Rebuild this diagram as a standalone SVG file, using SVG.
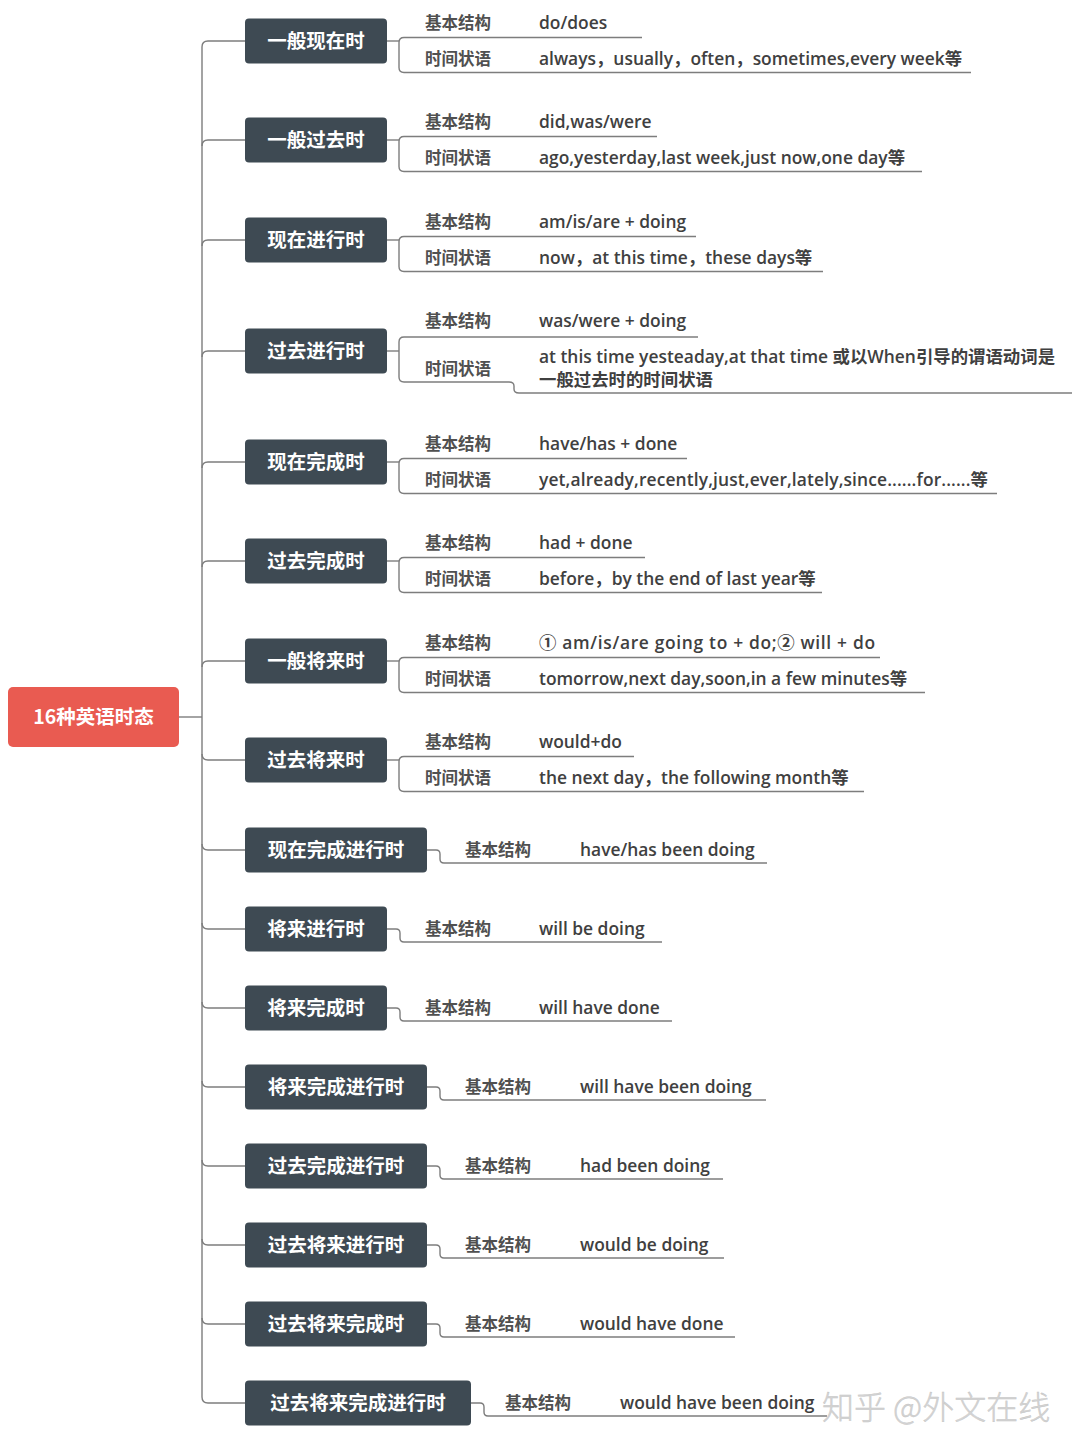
<svg xmlns="http://www.w3.org/2000/svg" width="1080" height="1452" viewBox="0 0 1080 1452">
<style>
.bg{fill:#ffffff}
.node rect{fill:#3e4a53}
.node text{fill:#ffffff;font-family:"Noto Sans CJK SC","Noto Sans",sans-serif;font-weight:bold;font-size:19.5px;text-anchor:middle}
.root rect{fill:#e95b51}
.lbl{fill:#505050;font-family:"Noto Sans CJK SC",sans-serif;font-weight:bold;font-size:16.5px}
.val{fill:#404040;font-family:"Open Sans","Noto Sans CJK SC",sans-serif;font-weight:600;font-size:17.4px}
.conn path{fill:none;stroke:#7d7d7d;stroke-width:1.4}
.wm{fill:#d4d4d4;stroke:#c4c4c4;stroke-width:0.4;font-family:"Noto Sans CJK SC",sans-serif;font-weight:300;font-size:32px}
</style>
<rect class="bg" x="0" y="0" width="1080" height="1452"/>
<g id="connectors" class="conn">
<path d="M179 717 H202"/>
<path d="M245 41 H208 Q202 41 202 47 V1397 Q202 1403 208 1403 H245"/>
<path d="M245 140 H208 Q202 140 202 146"/>
<path d="M245 240 H208 Q202 240 202 246"/>
<path d="M245 351 H208 Q202 351 202 357"/>
<path d="M245 462 H208 Q202 462 202 468"/>
<path d="M245 561 H208 Q202 561 202 567"/>
<path d="M245 661 H208 Q202 661 202 667"/>
<path d="M245 760 H208 Q202 760 202 754"/>
<path d="M245 850 H208 Q202 850 202 844"/>
<path d="M245 929 H208 Q202 929 202 923"/>
<path d="M245 1008 H208 Q202 1008 202 1002"/>
<path d="M245 1087 H208 Q202 1087 202 1081"/>
<path d="M245 1166 H208 Q202 1166 202 1160"/>
<path d="M245 1245 H208 Q202 1245 202 1239"/>
<path d="M245 1324 H208 Q202 1324 202 1318"/>
<!-- two-row subbranches -->
<path d="M387 41 H399"/>
<path d="M642 37.5 H404 Q399 37.5 399 42.5 V67.5 Q399 72.5 404 72.5 H971"/>
<path d="M387 140 H399"/>
<path d="M657 136.5 H404 Q399 136.5 399 141.5 V166.5 Q399 171.5 404 171.5 H922"/>
<path d="M387 240 H399"/>
<path d="M696 236.5 H404 Q399 236.5 399 241.5 V266.5 Q399 271.5 404 271.5 H823"/>
<path d="M387 351 H399"/>
<path d="M698 337 H404 Q399 337 399 342 V377 Q399 382 404 382 H509 Q514 382 514 386 V389 Q514 393 519 393 H1072"/>
<path d="M387 462 H399"/>
<path d="M687 458.5 H404 Q399 458.5 399 463.5 V488.5 Q399 493.5 404 493.5 H997"/>
<path d="M387 561 H399"/>
<path d="M645 557.5 H404 Q399 557.5 399 562.5 V587.5 Q399 592.5 404 592.5 H822"/>
<path d="M387 661 H399"/>
<path d="M880 657.5 H404 Q399 657.5 399 662.5 V687.5 Q399 692.5 404 692.5 H925"/>
<path d="M387 760 H399"/>
<path d="M634 756.5 H404 Q399 756.5 399 761.5 V786.5 Q399 791.5 404 791.5 H864"/>
<!-- single-row subbranches -->
<path d="M427 850 H436 Q440 850 440 854 V859 Q440 863 444 863 H767"/>
<path d="M387 929 H396 Q400 929 400 933 V938 Q400 942 404 942 H662"/>
<path d="M387 1008 H396 Q400 1008 400 1012 V1017 Q400 1021 404 1021 H672"/>
<path d="M427 1087 H436 Q440 1087 440 1091 V1096 Q440 1100 444 1100 H766"/>
<path d="M427 1166 H436 Q440 1166 440 1170 V1175 Q440 1179 444 1179 H723"/>
<path d="M427 1245 H436 Q440 1245 440 1249 V1254 Q440 1258 444 1258 H724"/>
<path d="M427 1324 H436 Q440 1324 440 1328 V1333 Q440 1337 444 1337 H735"/>
<path d="M471 1403 H480 Q484 1403 484 1407 V1412 Q484 1416 488 1416 H827"/>
</g>
<g id="root" class="root node">
<rect x="8" y="687" width="171" height="60" rx="5"/>
<text x="93.5" y="724">16种英语时态</text>
</g>
<g id="n1" class="node"><rect x="245" y="18.5" width="142" height="45" rx="4"/><text x="316" y="48">一般现在时</text></g>
<g id="n2" class="node"><rect x="245" y="117.5" width="142" height="45" rx="4"/><text x="316" y="147">一般过去时</text></g>
<g id="n3" class="node"><rect x="245" y="217.5" width="142" height="45" rx="4"/><text x="316" y="247">现在进行时</text></g>
<g id="n4" class="node"><rect x="245" y="328.5" width="142" height="45" rx="4"/><text x="316" y="358">过去进行时</text></g>
<g id="n5" class="node"><rect x="245" y="439.5" width="142" height="45" rx="4"/><text x="316" y="469">现在完成时</text></g>
<g id="n6" class="node"><rect x="245" y="538.5" width="142" height="45" rx="4"/><text x="316" y="568">过去完成时</text></g>
<g id="n7" class="node"><rect x="245" y="638.5" width="142" height="45" rx="4"/><text x="316" y="668">一般将来时</text></g>
<g id="n8" class="node"><rect x="245" y="737.5" width="142" height="45" rx="4"/><text x="316" y="767">过去将来时</text></g>
<g id="n9" class="node"><rect x="245" y="827.5" width="182" height="45" rx="4"/><text x="336" y="857">现在完成进行时</text></g>
<g id="n10" class="node"><rect x="245" y="906.5" width="142" height="45" rx="4"/><text x="316" y="936">将来进行时</text></g>
<g id="n11" class="node"><rect x="245" y="985.5" width="142" height="45" rx="4"/><text x="316" y="1015">将来完成时</text></g>
<g id="n12" class="node"><rect x="245" y="1064.5" width="182" height="45" rx="4"/><text x="336" y="1094">将来完成进行时</text></g>
<g id="n13" class="node"><rect x="245" y="1143.5" width="182" height="45" rx="4"/><text x="336" y="1173">过去完成进行时</text></g>
<g id="n14" class="node"><rect x="245" y="1222.5" width="182" height="45" rx="4"/><text x="336" y="1252">过去将来进行时</text></g>
<g id="n15" class="node"><rect x="245" y="1301.5" width="182" height="45" rx="4"/><text x="336" y="1331">过去将来完成时</text></g>
<g id="n16" class="node"><rect x="245" y="1380.5" width="226" height="45" rx="4"/><text x="358" y="1410">过去将来完成进行时</text></g>
<g id="sub1">
<text class="lbl" x="425" y="29">基本结构</text><text class="val" x="539" y="29">do/does</text>
<text class="lbl" x="425" y="65">时间状语</text><text class="val" x="539" y="65">always，usually，often，sometimes,every week等</text>
</g>
<g id="sub2">
<text class="lbl" x="425" y="128">基本结构</text><text class="val" x="539" y="128">did,was/were</text>
<text class="lbl" x="425" y="164">时间状语</text><text class="val" x="539" y="164">ago,yesterday,last week,just now,one day等</text>
</g>
<g id="sub3">
<text class="lbl" x="425" y="228">基本结构</text><text class="val" x="539" y="228">am/is/are + doing</text>
<text class="lbl" x="425" y="264">时间状语</text><text class="val" x="539" y="264">now，at this time，these days等</text>
</g>
<g id="sub4">
<text class="lbl" x="425" y="327">基本结构</text><text class="val" x="539" y="327">was/were + doing</text>
<text class="lbl" x="425" y="375">时间状语</text>
<text class="val" x="539" y="363">at this time yesteaday,at that time 或以When引导的谓语动词是</text>
<text class="val" x="539" y="386">一般过去时的时间状语</text>
</g>
<g id="sub5">
<text class="lbl" x="425" y="450">基本结构</text><text class="val" x="539" y="450">have/has + done</text>
<text class="lbl" x="425" y="486">时间状语</text><text class="val" x="539" y="486" textLength="449" lengthAdjust="spacing">yet,already,recently,just,ever,lately,since......for......等</text>
</g>
<g id="sub6">
<text class="lbl" x="425" y="549">基本结构</text><text class="val" x="539" y="549">had + done</text>
<text class="lbl" x="425" y="585">时间状语</text><text class="val" x="539" y="585">before，by the end of last year等</text>
</g>
<g id="sub7">
<text class="lbl" x="425" y="649">基本结构</text><text class="val" x="539" y="649" textLength="336" lengthAdjust="spacing">① am/is/are going to + do;② will + do</text>
<text class="lbl" x="425" y="685">时间状语</text><text class="val" x="539" y="685">tomorrow,next day,soon,in a few minutes等</text>
</g>
<g id="sub8">
<text class="lbl" x="425" y="748">基本结构</text><text class="val" x="539" y="748">would+do</text>
<text class="lbl" x="425" y="784">时间状语</text><text class="val" x="539" y="784">the next day，the following month等</text>
</g>
<g id="sub9"><text class="lbl" x="465" y="856">基本结构</text><text class="val" x="580" y="856">have/has been doing</text></g>
<g id="sub10"><text class="lbl" x="425" y="935">基本结构</text><text class="val" x="539" y="935">will be doing</text></g>
<g id="sub11"><text class="lbl" x="425" y="1014">基本结构</text><text class="val" x="539" y="1014">will have done</text></g>
<g id="sub12"><text class="lbl" x="465" y="1093">基本结构</text><text class="val" x="580" y="1093">will have been doing</text></g>
<g id="sub13"><text class="lbl" x="465" y="1172">基本结构</text><text class="val" x="580" y="1172">had been doing</text></g>
<g id="sub14"><text class="lbl" x="465" y="1251">基本结构</text><text class="val" x="580" y="1251">would be doing</text></g>
<g id="sub15"><text class="lbl" x="465" y="1330">基本结构</text><text class="val" x="580" y="1330">would have done</text></g>
<g id="sub16"><text class="lbl" x="505" y="1409">基本结构</text><text class="val" x="620" y="1409">would have been doing</text></g>
<text class="wm" x="822" y="1419">知乎 @外文在线</text>
</svg>
